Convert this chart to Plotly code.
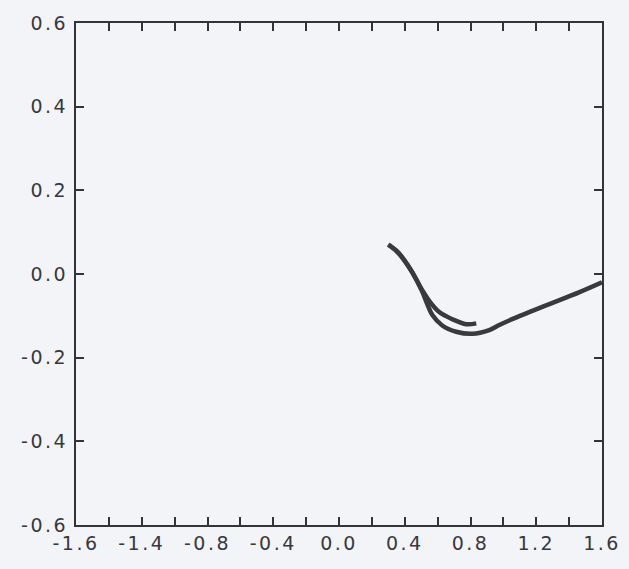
import plotly.graph_objects as go

# Curve A (shorter, upper branch)
curve_a_x = [0.300, 0.350, 0.390, 0.446, 0.507, 0.552, 0.610, 0.689, 0.774, 0.835]
curve_a_y = [0.070, 0.055, 0.037, 0.004, -0.039, -0.066, -0.091, -0.108, -0.120, -0.118]

# Curve B (longer, lower branch reaching right edge)
curve_b_x = [0.300, 0.350, 0.390, 0.446, 0.505, 0.535, 0.568, 0.628, 0.713, 0.811, 0.914, 0.975, 1.053, 1.260, 1.460, 1.600]
curve_b_y = [0.070, 0.055, 0.037, 0.004, -0.041, -0.070, -0.098, -0.123, -0.138, -0.143, -0.134, -0.122, -0.108, -0.075, -0.044, -0.020]

x_tickvals = [-1.6, -1.4, -1.2, -1.0, -0.8, -0.6, -0.4, -0.2, 0.0, 0.2, 0.4, 0.6, 0.8, 1.0, 1.2, 1.4, 1.6]
x_ticktext = ["-1.6", "", "-1.4", "", "-0.8", "", "-0.4", "", "0.0", "", "0.4", "", "0.8", "", "1.2", "", "1.6"]
y_tickvals = [-0.6, -0.4, -0.2, 0.0, 0.2, 0.4, 0.6]
y_ticktext = ["-0.6", "-0.4", "-0.2", "0.0", "0.2", "0.4", "0.6"]

bg = "#f3f4f8"
line_color = "#3a3a3e"
fig = go.Figure()
fig.add_trace(go.Scatter(x=curve_a_x, y=curve_a_y, mode="lines",
                         line=dict(color=line_color, width=4.5, shape="spline", smoothing=1.0), showlegend=False))
fig.add_trace(go.Scatter(x=curve_b_x, y=curve_b_y, mode="lines",
                         line=dict(color=line_color, width=4.5, shape="spline", smoothing=1.0), showlegend=False))

axis_common = dict(showgrid=False, zeroline=False, showline=True, linecolor="#333338", linewidth=2,
                   ticks="inside", ticklen=8, tickwidth=2, tickcolor="#333338", mirror="ticks",
                   tickfont=dict(family="DejaVu Sans", size=19, color="#38383c"))

fig.update_layout(
    width=629, height=569,
    margin=dict(l=76, r=26, t=18, b=44),
    paper_bgcolor=bg, plot_bgcolor=bg,
    xaxis=dict(range=[-1.6, 1.6], tickmode="array", tickvals=x_tickvals, ticktext=x_ticktext,
               ticklabelstandoff=0, **axis_common),
    yaxis=dict(range=[-0.6, 0.6], tickmode="array", tickvals=y_tickvals, ticktext=y_ticktext,
               ticklabelstandoff=2, **axis_common),
)
post = (
    "document.body.style.margin='0';document.body.style.background='%s';"
    "document.body.style.overflow='hidden';"
    "var s=document.createElement('style');"
    "s.textContent='.xtick text, .ytick text {letter-spacing: 2.5px;}';"
    "document.head.appendChild(s);" % bg
)
fig.write_html("out.html", config={"displayModeBar": False}, post_script=post)
